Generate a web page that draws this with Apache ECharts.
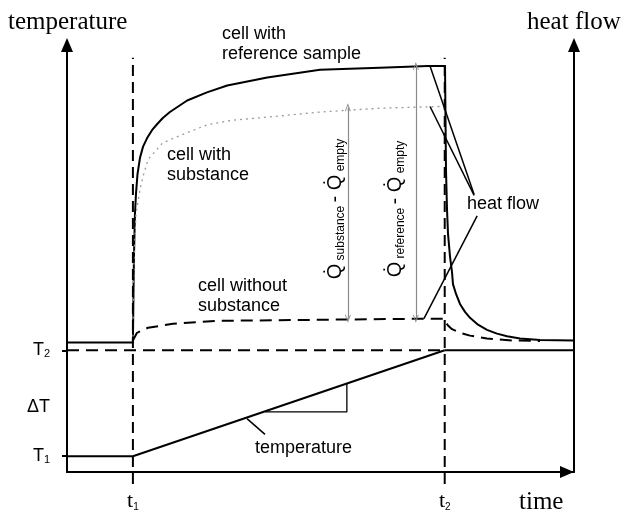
<!DOCTYPE html>
<html><head><meta charset="utf-8">
<script src="https://cdn.jsdelivr.net/npm/echarts@6/dist/echarts.min.js"></script>
<style>html,body{margin:0;padding:0;background:#fff}#c{width:624px;height:512px}</style>
</head><body><div id="c"></div>
<script>
// ---- data (schematic units: time 0..100, signal 0..100) ----
const tStart = 13, tEnd = 74.5;
const T1 = 3.7, T2 = 28.5, dTmid = 15.3;
const xLabelValues = [13, 74.5];
const xLabelSub = ['1', '2'];
const yLabelValues = [3.7, 15.3, 28.5];
const yLabelMain = ['T', '\u0394T', 'T'];
const yLabelSub = ['1', '', '2'];
const yTickValues = [3.7, 28.5];

const baselineLeft = [[0, 30.3], [13, 30.3]];
const refCurve = [[13,30.3],[13.1,40.5],[13.2,50],[13.4,60.4],[13.6,65],[13.9,69.7],[14.4,73.6],[15,76.2],[15.8,78.2],[16.8,80.1],[17.8,81.5],[18.9,82.9],[20.3,84.3],[23.7,87.0],[27.6,88.9],[31.6,90.5],[39.5,92.4],[49.9,94.2],[61.7,94.7],[71.2,95.1],[74.56,95.1],[74.66,82.4],[74.75,70.8],[74.95,61.6],[75.15,55.8],[75.54,50.5],[75.94,46.8],[76.13,44.0],[76.73,41.7],[77.51,39.35],[78.5,37.5],[79.49,36.1],[81.07,34.5],[82.84,33.3],[84.81,32.4],[86.79,31.8],[89.35,31.25],[93.29,30.9],[100,30.8]];
const substanceCurve = [[13,30.3],[13.2,50],[13.6,60.4],[14.4,66.2],[15,69.2],[16,73.2],[18.9,77.1],[21.7,78.5],[27.6,81.3],[32.7,82.4],[39.5,83.1],[49.9,84.3],[61.7,85.2],[73.6,85.6]];
const emptyCurve = [[13,30.8],[13.8,32.6],[16,33.8],[20.9,34.7],[29.6,35.4],[49.9,35.65],[70.2,35.9],[74.4,35.9],[74.75,35.0],[75.15,34.3],[75.94,33.45],[77.51,32.6],[79.49,31.94],[82.84,31.25],[87.97,30.8],[93.3,30.7]];
const tempProgram = [[0,3.7],[13,3.7],[74.5,28.5]];
const t2LevelRight = [[74.5,28.5],[100,28.5]];
const t2GuideH = [[0,28.5],[74.5,28.5]];
const rateTriangle = [[39.1,14.1],[55.2,14.1],[55.2,20.6]];
const tempPointer = [[35.5,12.5],[39.05,8.8]];
const t1GuideV = [[13,-2.8],[13,97]];
const t2GuideV = [[74.5,-2.8],[74.5,97]];
const heatPointer1 = [[71.6,95.1],[80.3,65.0]];
const heatPointer2 = [[71.6,85.6],[80.3,64.8]];
const heatPointer3 = [[80.9,60.0],[70.4,35.9]];
const diffArrowSub = [[55.4,35.9],[55.4,85.4]];
const diffArrowRef = [[68.8,35.9],[68.8,95.1]];

// ---- chart ----
const chart = echarts.init(document.getElementById('c'), null, {renderer:'canvas'});
const BLACK = '#000';
function line(data, opts) {
  opts = opts || {};
  return {
    type:'line', data: data, symbol:'none', showSymbol:false, silent:true,
    clip: false, z: opts.z || 2,
    lineStyle: {color: opts.color || BLACK, width: opts.width || 2, type: opts.type || 'solid', cap:'butt', join:'round'}
  };
}
const chevron = 'path://M5,0 L10,10 L8.6,10 L5,3 L1.4,10 L0,10 Z';
const sans = '"Liberation Sans", Arial, sans-serif';
const serif = '"Liberation Serif", "Times New Roman", serif';

const option = {
  animation:false,
  backgroundColor:'#fff',
  grid:{left:67, right:50, top:45, bottom:36, containLabel:false},
  xAxis:{
    type:'value', min:0, max:100,
    axisLine:{show:true, onZero:false, symbol:['none','triangle'], symbolSize:[12,14], symbolOffset:[0,-7],
      lineStyle:{color:BLACK, width:2}},
    axisTick:{show:false},
    splitLine:{show:false},
    axisLabel:{
      customValues: xLabelValues, margin:18,
      formatter: function(v){ const i = xLabelValues.indexOf(v); return '{t|t}{s|' + xLabelSub[i] + '}'; },
      rich:{ t:{fontFamily:serif, fontSize:22, color:BLACK}, s:{fontFamily:sans, fontSize:10, color:BLACK, verticalAlign:'bottom'} }
    }
  },
  yAxis:[{
    type:'value', min:0, max:100, position:'left',
    axisLine:{show:true, onZero:false, symbol:['none','triangle'], symbolSize:[12,14], lineStyle:{color:BLACK, width:2}},
    axisTick:{show:true, customValues: yTickValues, length:5, lineStyle:{color:BLACK, width:2}},
    splitLine:{show:false},
    axisLabel:{
      customValues: yLabelValues, margin:17,
      formatter: function(v){ const i = yLabelValues.indexOf(v); return '{t|' + yLabelMain[i] + '}' + (yLabelSub[i] ? '{s|' + yLabelSub[i] + '}' : ''); },
      rich:{ t:{fontFamily:sans, fontSize:18, color:BLACK}, s:{fontFamily:sans, fontSize:11, color:BLACK, verticalAlign:'bottom'} }
    }
  },{
    type:'value', min:0, max:100, position:'right',
    axisLine:{show:true, onZero:false, symbol:['none','triangle'], symbolSize:[12,14], lineStyle:{color:BLACK, width:2}},
    axisTick:{show:false}, axisLabel:{show:false}, splitLine:{show:false}
  }],
  series:[
    line(baselineLeft),
    line(refCurve),
    line(substanceCurve, {color:'#9a9a9a', width:1.3, type:[2,4]}),
    line(emptyCurve, {type:[12,7]}),
    line(t2GuideH, {type:[12,7]}),
    line(t2LevelRight),
    line(tempProgram),
    line(rateTriangle, {width:1.3}),
    line(tempPointer, {width:1.5}),
    line(t1GuideV, {type:[11,6]}),
    line(t2GuideV, {type:[11,6]}),
    line(heatPointer1, {width:1.5}),
    line(heatPointer2, {width:1.5}),
    line(heatPointer3, {width:1.5}),
    {
      type:'line', data:[], silent:true,
      markLine:{
        silent:true, symbol:[chevron, chevron], symbolSize:[6,8], animation:false,
        label:{show:false},
        lineStyle:{color:'#8a8a8a', width:1.2, type:'solid'},
        data:[
          [{coord: diffArrowSub[0]}, {coord: diffArrowSub[1]}],
          [{coord: diffArrowRef[0]}, {coord: diffArrowRef[1]}]
        ]
      }
    }
  ],
  graphic:[
    {type:'text', x:8, y:22, style:{text:'temperature', fontFamily:serif, fontSize:25, fill:BLACK, align:'left', verticalAlign:'middle'}},
    {type:'text', x:527, y:22, style:{text:'heat flow', fontFamily:serif, fontSize:25, fill:BLACK, align:'left', verticalAlign:'middle'}},
    {type:'text', x:519, y:502, style:{text:'time', fontFamily:serif, fontSize:25, fill:BLACK, align:'left', verticalAlign:'middle'}},
    {type:'text', x:222, y:24, style:{text:'cell with\nreference sample', fontFamily:sans, fontSize:18, lineHeight:20, fill:BLACK, align:'left', verticalAlign:'top'}},
    {type:'text', x:167, y:145, style:{text:'cell with\nsubstance', fontFamily:sans, fontSize:18, lineHeight:20, fill:BLACK, align:'left', verticalAlign:'top'}},
    {type:'text', x:198, y:276, style:{text:'cell without\nsubstance', fontFamily:sans, fontSize:18, lineHeight:20, fill:BLACK, align:'left', verticalAlign:'top'}},
    {type:'text', x:467, y:204, style:{text:'heat flow', fontFamily:sans, fontSize:18, fill:BLACK, align:'left', verticalAlign:'middle'}},
    {type:'text', x:255, y:448, style:{text:'temperature', fontFamily:sans, fontSize:18, fill:BLACK, align:'left', verticalAlign:'middle'}},
    {type:'text', x:335, y:209, rotation:Math.PI/2, style:{
      text:'{q|Q\u0307}{s| substance }{q|- Q\u0307}{s| empty}', align:'center', verticalAlign:'middle',
      rich:{ q:{fontFamily:sans, fontSize:20, fill:BLACK, lineHeight:23}, s:{fontFamily:sans, fontSize:12, fill:BLACK, verticalAlign:'bottom', lineHeight:15} }
    }},
    {type:'text', x:395, y:209, rotation:Math.PI/2, style:{
      text:'{q|Q\u0307}{s| reference }{q|- Q\u0307}{s| empty}', align:'center', verticalAlign:'middle',
      rich:{ q:{fontFamily:sans, fontSize:20, fill:BLACK, lineHeight:23}, s:{fontFamily:sans, fontSize:12, fill:BLACK, verticalAlign:'bottom', lineHeight:15} }
    }}
  ]
};
chart.setOption(option);
</script>
</body></html>
